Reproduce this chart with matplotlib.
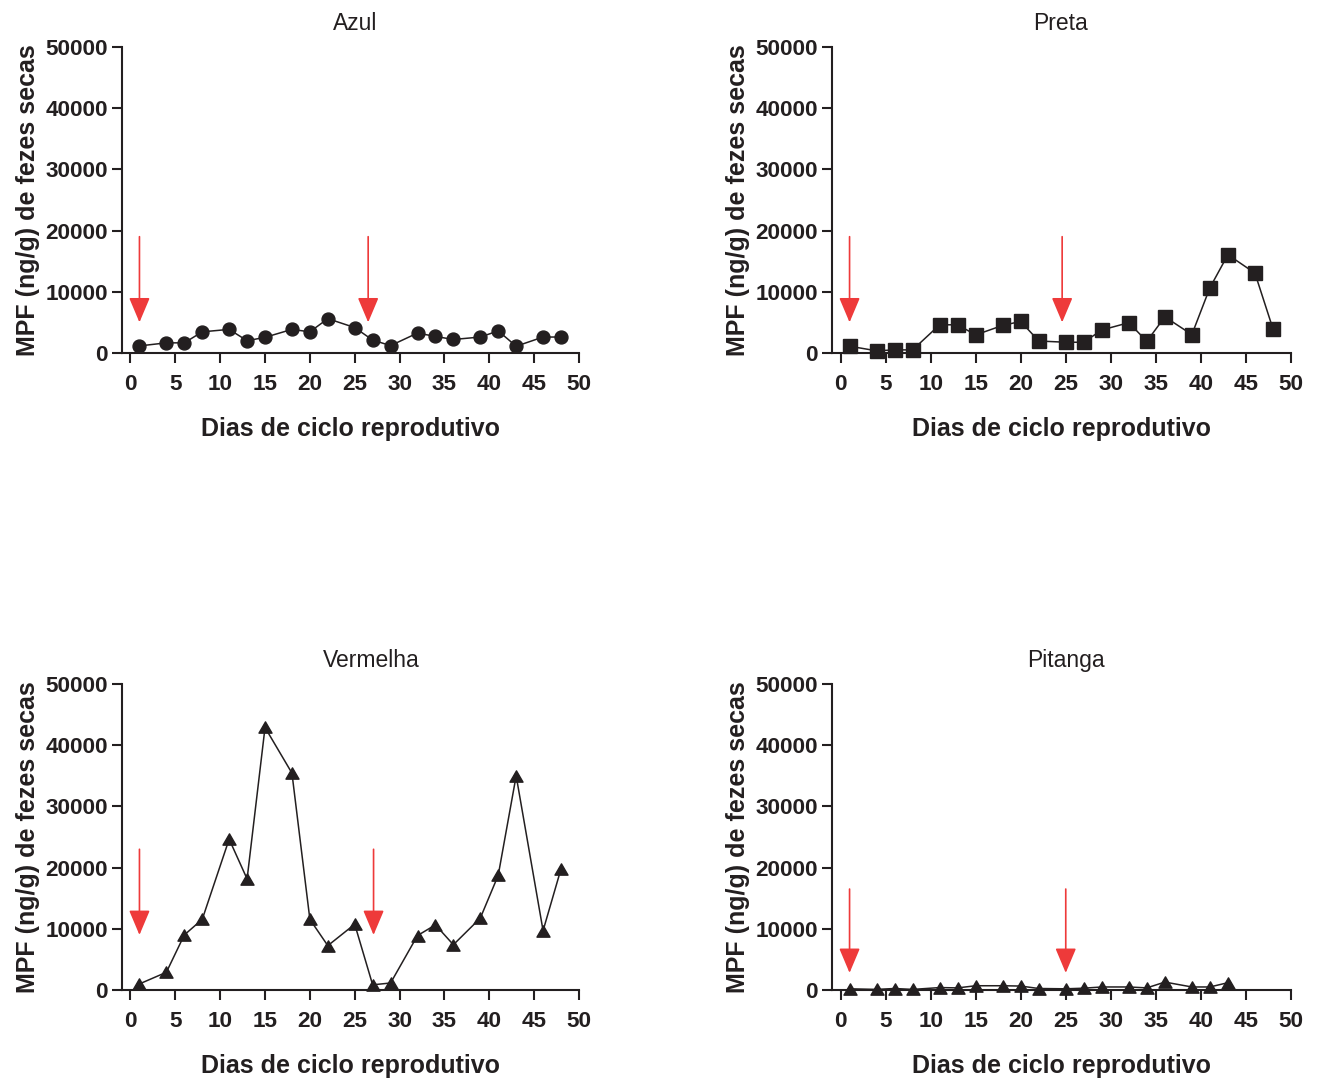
import matplotlib
matplotlib.use("Agg")
import matplotlib.pyplot as plt
from matplotlib.path import Path

plt.rcParams['font.family'] = ['Liberation Sans', 'DejaVu Sans']

# dias de coleta e valores de MPF (ng/g)
dias_azul = [1, 4, 6, 8, 11, 13, 15, 18, 20, 22, 25, 27, 29, 32, 34, 36, 39, 41, 43, 46, 48]
mpf_azul = [1150, 1650, 1650, 3450, 3850, 2000, 2550, 3850, 3450, 5600, 4150,
            2100, 1200, 3250, 2700, 2200, 2600, 3600, 1100, 2600, 2600]

dias_preta = [1, 4, 6, 8, 11, 13, 15, 18, 20, 22, 25, 27, 29, 32, 34, 36, 39, 41, 43, 46, 48]
mpf_preta = [1100, 350, 500, 500, 4600, 4600, 2950, 4500, 5150, 1950, 1750,
             1750, 3750, 4950, 1900, 5900, 3000, 10650, 16050, 13050, 3950]

dias_vermelha = [1, 4, 6, 8, 11, 13, 15, 18, 20, 22, 25, 27, 29, 32, 34, 36, 39, 41, 43, 46, 48]
mpf_vermelha = [1000, 2900, 9000, 11550, 24650, 18150, 42900, 35450, 11550, 7250, 10750,
                850, 1150, 8900, 10650, 7400, 11750, 18750, 35000, 9700, 19800]

dias_pitanga = [1, 4, 6, 8, 11, 13, 15, 18, 20, 22, 25, 27, 29, 32, 34, 36, 39, 41, 43]
mpf_pitanga = [200, 100, 250, 100, 400, 350, 700, 700, 650, 250, 200,
               300, 500, 500, 350, 1300, 500, 500, 1200]

# dias marcados com setas vermelhas
setas_azul = [1, 26.5]
setas_preta = [1, 24.6]
setas_vermelha = [1, 27.1]
setas_pitanga = [1, 25]

yticks = [0, 10000, 20000, 30000, 40000, 50000]
xticks = list(range(0, 55, 5))

preto = '#231F20'
vermelho = '#EE3A3A'
tri = Path([(0, 0.866), (-1, -0.866), (1, -0.866), (0, 0.866)],
           [Path.MOVETO, Path.LINETO, Path.LINETO, Path.CLOSEPOLY])

fig = plt.figure(figsize=(13.2, 10.82), dpi=100)

paineis = [
    ('Azul', [0.0924, 0.6738, 0.3462, 0.2828], dias_azul, mpf_azul, 'o', 9.3, setas_azul, 19000, 5000, 0.51),
    ('Preta', [0.6303, 0.6738, 0.3477, 0.2828], dias_preta, mpf_preta, 's', 9.6, setas_preta, 19000, 5000, 0.497),
    ('Vermelha', [0.0924, 0.085, 0.3462, 0.2828], dias_vermelha, mpf_vermelha, tri, 9.4, setas_vermelha, 23000, 9000, 0.545),
    ('Pitanga', [0.6303, 0.085, 0.3477, 0.2828], dias_pitanga, mpf_pitanga, tri, 9.4, setas_pitanga, 16500, 2800, 0.51),
]

for nome, pos, dias, mpf, mk, ms, setas, topo, ponta, tx in paineis:
    ax = fig.add_axes(pos)
    ax.plot(dias, mpf, color=preto, lw=1.1, marker=mk, ms=ms, mfc=preto, mec=preto,
            clip_on=False, zorder=3)
    for d in setas:
        ax.annotate('', xy=(d, ponta), xytext=(d, topo),
                    arrowprops=dict(arrowstyle='-|>,head_length=1.54,head_width=0.65',
                                    mutation_scale=10, color=vermelho, lw=1.2,
                                    shrinkA=0, shrinkB=0))
    ax.set_xlim(-0.95, 50)
    ax.set_ylim(0, 50000)
    ax.set_xticks(xticks)
    ax.set_yticks(yticks)
    for s in ['top', 'right']:
        ax.spines[s].set_visible(False)
    for s in ['left', 'bottom']:
        ax.spines[s].set_linewidth(1.5)
        ax.spines[s].set_color(preto)
    ax.tick_params(width=1.5, length=7.2, color=preto, labelcolor=preto, labelsize=16.2)
    ax.tick_params(axis='y', pad=3)
    ax.tick_params(axis='x', pad=8)
    for lab in ax.get_xticklabels() + ax.get_yticklabels():
        lab.set_fontweight('bold')
    ax.set_xlabel('Dias de ciclo reprodutivo', fontsize=18, fontweight='bold',
                  color=preto, labelpad=16)
    ax.set_ylabel('MPF (ng/g) de fezes secas', fontsize=18, fontweight='bold',
                  color=preto, labelpad=4)
    ax.set_title(nome, fontsize=16.5, color=preto, x=tx, pad=12)

fig.savefig('out.png', dpi=100)
